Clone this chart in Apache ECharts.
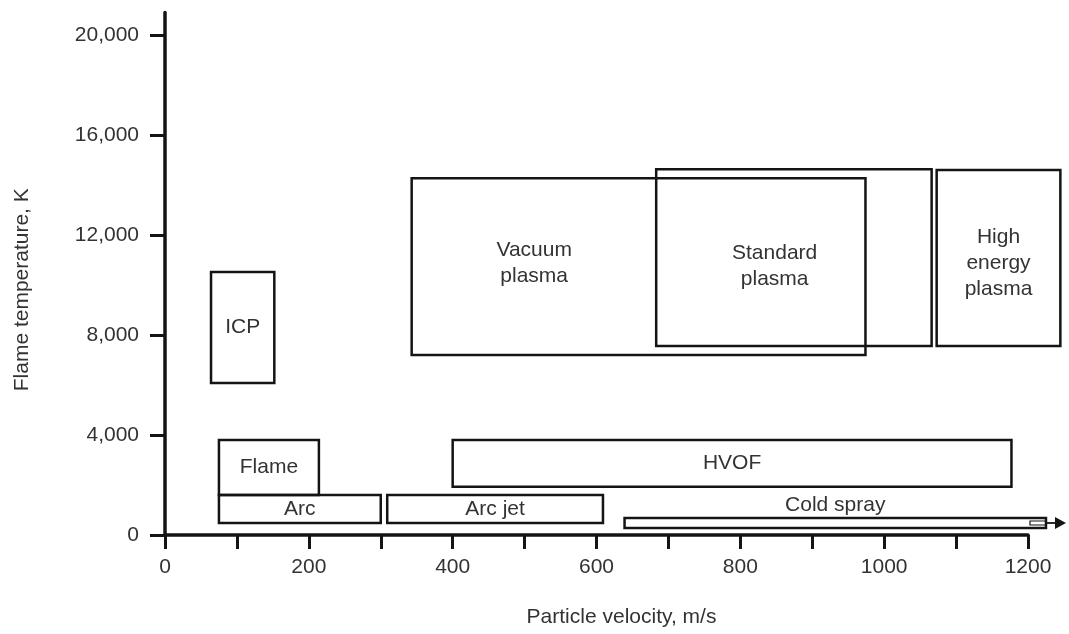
<!DOCTYPE html>
<html>
<head>
<meta charset="utf-8">
<script src="https://cdn.jsdelivr.net/npm/echarts@6/dist/echarts.min.js"></script>
<style>
html,body{margin:0;padding:0;background:#fff;}
#chart{width:1069px;height:634px;}
</style>
</head>
<body>
<div id="chart"></div>
<script>
// ---- data ----
const methods = ['ICP', 'Flame', 'Arc', 'Arc jet', 'Cold spray', 'HVOF', 'Vacuum plasma', 'Standard plasma', 'High energy plasma'];
const boxLabels = ['ICP', 'Flame', 'Arc', 'Arc jet', 'Cold spray', 'HVOF', 'Vacuum\nplasma', 'Standard\nplasma', 'High\nenergy\nplasma'];
const velocityMin = [64, 75, 75, 309, 639, 400, 343, 683, 1073];      // m/s
const velocityMax = [152, 214, 300, 609, 1225, 1177, 974, 1066, 1245]; // m/s
const tempMin = [6080, 1600, 480, 480, 280, 1930, 7200, 7560, 7560];   // K
const tempMax = [10520, 3800, 1600, 1600, 680, 3800, 14270, 14630, 14600]; // K
const xTickValues = [0, 100, 200, 300, 400, 500, 600, 700, 800, 900, 1000, 1100, 1200];
const xLabelValues = [0, 200, 400, 600, 800, 1000, 1200];
const yLabelValues = [0, 4000, 8000, 12000, 16000, 20000];

// ---- style / layout (not data) ----
const FONT = '"Liberation Sans", Arial, Helvetica, sans-serif';
const INK = '#141414';
const TEXT = '#333333';
// label anchor as fraction of the box [fromLeft, fromTop]
const labelAnchor = {
  'Vacuum plasma': [0.27, 0.48],
  'Standard plasma': [0.43, 0.55],
  'High energy plasma': [0.5, 0.53]
};

const boxData = methods.map((m, i) => ({
  name: m,
  value: [velocityMin[i], velocityMax[i], tempMin[i], tempMax[i]]
}));

function renderBox(params, api) {
  const i = params.dataIndex;
  const name = methods[i];
  const tl = api.coord([api.value(0), api.value(3)]);
  const br = api.coord([api.value(1), api.value(2)]);
  const w = br[0] - tl[0], h = br[1] - tl[1];
  const children = [{
    type: 'rect',
    shape: { x: tl[0], y: tl[1], width: w, height: h },
    style: { fill: 'none', stroke: INK, lineWidth: 2.5 }
  }];
  if (name === 'Cold spray') {
    const ym = tl[1] + h / 2;
    children.push({
      type: 'rect',
      shape: { x: br[0] - 16, y: tl[1] + 3, width: 16, height: h - 6 },
      style: { fill: 'none', stroke: INK, lineWidth: 1.2 }
    });
    children.push({
      type: 'line',
      shape: { x1: br[0], y1: ym, x2: br[0] + 14, y2: ym },
      style: { stroke: INK, lineWidth: 1.8 }
    });
    children.push({
      type: 'polygon',
      shape: { points: [[br[0] + 9, ym - 6], [br[0] + 20, ym], [br[0] + 9, ym + 6]] },
      style: { fill: INK }
    });
    children.push({
      type: 'text',
      style: {
        x: tl[0] + w / 2, y: tl[1] - 2,
        text: boxLabels[i], fill: TEXT,
        fontSize: 21, fontFamily: FONT,
        align: 'center', verticalAlign: 'bottom'
      }
    });
  } else {
    const a = labelAnchor[name] || [0.5, 0.5];
    children.push({
      type: 'text',
      style: {
        x: tl[0] + w * a[0], y: tl[1] + h * a[1],
        text: boxLabels[i], fill: TEXT,
        fontSize: 21, fontFamily: FONT, lineHeight: 26,
        align: 'center', verticalAlign: 'middle'
      }
    });
  }
  return { type: 'group', children: children };
}

const chart = echarts.init(document.getElementById('chart'), null, { renderer: 'canvas' });
chart.setOption({
  animation: false,
  backgroundColor: '#ffffff',
  grid: { left: 165, right: 41, top: 12.5, bottom: 99 },
  xAxis: {
    type: 'value',
    min: 0,
    max: 1200,
    name: 'Particle velocity, m/s',
    nameLocation: 'middle',
    nameGap: 72,
    nameTextStyle: { fontSize: 21, color: TEXT, fontFamily: FONT, padding: [0, 0, 0, 50] },
    axisLine: { show: true, onZero: false, lineStyle: { color: INK, width: 3.5 } },
    axisTick: { show: true, length: 14, lineStyle: { color: INK, width: 3 }, customValues: xTickValues },
    axisLabel: {
      fontSize: 21, color: TEXT, fontFamily: FONT, margin: 22, customValues: xLabelValues,
      formatter: v => String(v)
    },
    splitLine: { show: false }
  },
  yAxis: {
    type: 'value',
    min: 0,
    max: 20900,
    name: 'Flame temperature, K',
    nameLocation: 'middle',
    nameGap: 132,
    nameRotate: 90,
    nameTextStyle: { fontSize: 21, color: TEXT, fontFamily: FONT, padding: [0, 32, 0, 0] },
    axisLine: { show: true, onZero: false, lineStyle: { color: INK, width: 3.5 } },
    axisTick: { show: true, length: 15, lineStyle: { color: INK, width: 3 }, customValues: yLabelValues },
    axisLabel: {
      fontSize: 21, color: TEXT, fontFamily: FONT, margin: 26, customValues: yLabelValues,
      formatter: v => Number(v).toLocaleString('en-US')
    },
    splitLine: { show: false }
  },
  series: [{
    type: 'custom',
    name: 'Thermal spray processes',
    clip: false,
    renderItem: renderBox,
    encode: { x: [0, 1], y: [2, 3] },
    data: boxData
  }]
});
</script>
</body>
</html>
